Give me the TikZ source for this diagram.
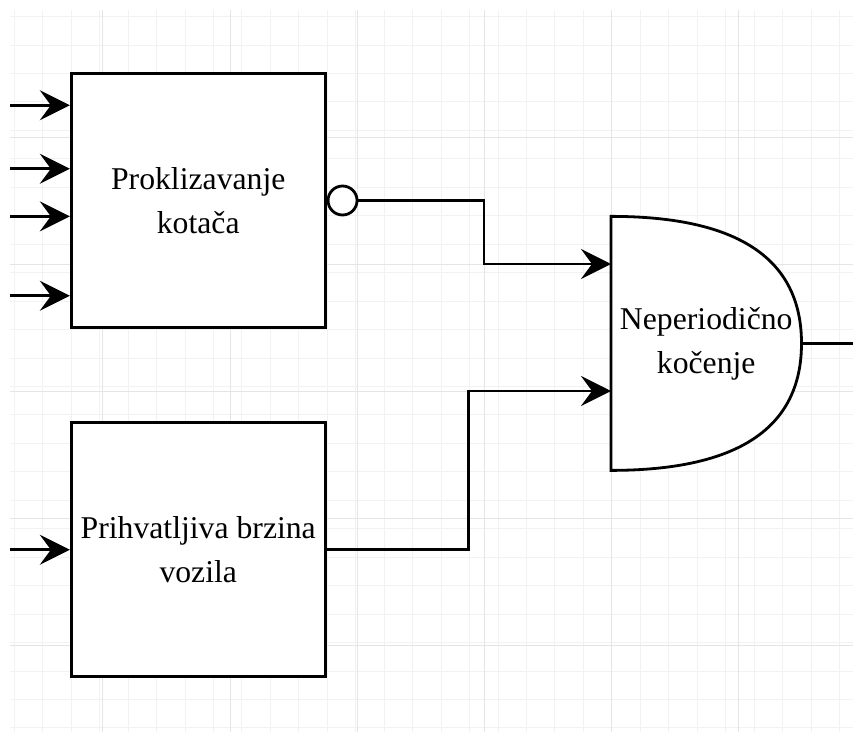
\documentclass[tikz,border=0pt]{standalone}
\usepackage{fontspec}
\setmainfont{Liberation Serif}
\usetikzlibrary{arrows.meta,positioning}

\begin{document}
\begin{tikzpicture}[x=31.75pt, y=31.75pt,
  blok/.style={draw, fill=white, line width=2.8pt, minimum width=254pt, minimum height=254pt,
    align=center, font=\fontsize{31.7}{44}\selectfont},
  kapija/.style={minimum width=190.5pt, minimum height=254pt, inner sep=0pt, outer sep=0pt,
    align=center, font=\fontsize{31.7}{44}\selectfont},
  negacija/.style={draw, circle, fill=white, line width=2.8pt, minimum size=29pt, inner sep=0pt},
  veza/.style={line width=2.8pt},
  ulaz/.style={veza, -{Stealth[length=30pt, width=30pt, inset=11pt]}}]
\useasboundingbox (-2.244, 2.315) rectangle (24.622, -20.74);
\draw[black!5, line width=1pt] (-1.93, -20.74) grid (24.622, 1.99);
\draw[black!10, line width=1pt, shift={(1,2)}] (-2.93, -22.74) grid[step=4] (23.622, -0.01);

\draw[veza, fill=white] (17,-4.5) .. controls (21,-4.5) and (23,-5.833) .. (23,-8.5)
  .. controls (23,-11.167) and (21,-12.5) .. (17,-12.5) -- cycle;

\node[blok] (kotaci) at (4,-4) {Proklizavanje\\kotača};
\node[blok] (brzina) at (4,-15) {Prihvatljiva brzina\\vozila};
\node[kapija] (kocenje) at (20,-8.5) {Neperiodično\\kočenje};
\node[negacija, right=0pt of kotaci] (neg) {};

\foreach \y [count=\i] in {-1,-3,-4.5,-7} {
  \coordinate (u\i) at (-1.93,\y);
  \draw[ulaz] (u\i) -- (u\i -| kotaci.west);
}
\coordinate (u5) at (-1.93,-15);
\draw[ulaz] (u5) -- (brzina.west);

\draw[ulaz] (neg.east) -| (13,-6) -- (kocenje.west |- 0,-6);
\draw[ulaz] (brzina.east) -| (12.5,-10) -- (kocenje.west |- 0,-10);
\coordinate (izlaz) at (24.622,-8.5);
\draw[veza] (kocenje.east) -- (izlaz);
\end{tikzpicture}
\end{document}
